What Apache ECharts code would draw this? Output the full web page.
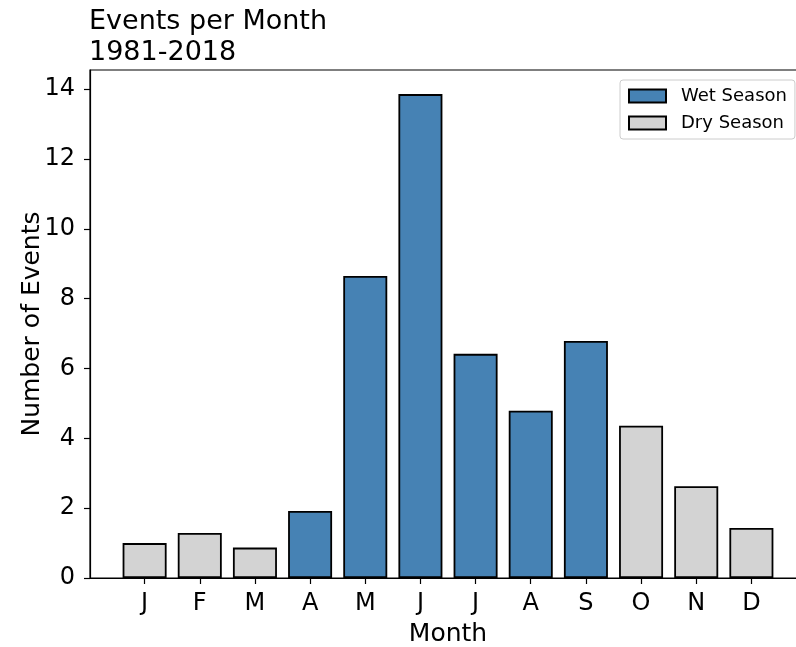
<!DOCTYPE html>
<html>
<head>
<meta charset="utf-8">
<script src="https://cdn.jsdelivr.net/npm/echarts@6/dist/echarts.min.js"></script>
<style>html,body{margin:0;padding:0;background:#fff;}#c{width:796px;height:647px;}</style>
</head>
<body>
<div id="c"></div>
<script>
const months = ['J','F','M','A','M','J','J','A','S','O','N','D'];
const values = [1.00, 1.29, 0.87, 1.92, 8.65, 13.86, 6.42, 4.79, 6.79, 4.36, 2.63, 1.43];
const season = ['Dry','Dry','Dry','Wet','Wet','Wet','Wet','Wet','Wet','Dry','Dry','Dry'];
const yTicks = [0, 2, 4, 6, 8, 10, 12, 14];
const yMax = 14.55;

const font = 'DejaVu Sans';
const idx = months.map((m, i) => i);
const wetData = idx.filter(i => season[i] === 'Wet').map(i => [i, values[i]]);
const dryData = idx.filter(i => season[i] === 'Dry').map(i => [i, values[i]]);

const chart = echarts.init(document.getElementById('c'), null, {renderer: 'canvas'});
chart.setOption({
  animation: false,
  backgroundColor: '#fff',
  title: {
    text: 'Events per Month\n1981-2018',
    left: 89, top: 6, padding: 0,
    textStyle: {fontFamily: font, fontSize: 27, fontWeight: 'normal', color: '#000', lineHeight: 31}
  },
  legend: {
    orient: 'vertical',
    left: 620, top: 80,
    itemWidth: 37, itemHeight: 13, itemGap: 9,
    padding: [7, 8, 7, 8],
    borderColor: '#cccccc', borderWidth: 1, borderRadius: 3,
    backgroundColor: 'rgba(255,255,255,0.8)',
    icon: 'rect',
    textStyle: {fontFamily: font, fontSize: 18, color: '#000', padding: [0, 0, 0, 10]},
    data: ['Wet Season', 'Dry Season']
  },
  grid: {left: 90, top: 70, width: 716, height: 508, containLabel: false, outerBoundsMode: 'none',
         show: true, borderColor: '#000', borderWidth: 1.2, backgroundColor: 'transparent'},
  xAxis: {
    type: 'value', min: -0.99, max: 11.99,
    name: 'Month', nameLocation: 'middle', nameGap: 44, nameMoveOverlap: false,
    nameTextStyle: {fontFamily: font, fontSize: 25, color: '#000'},
    axisLine: {show: true, onZero: false, lineStyle: {color: '#000', width: 1.2}},
    axisTick: {show: true, length: 6, lineStyle: {color: '#000', width: 1.2}, customValues: idx},
    axisLabel: {fontFamily: font, fontSize: 24, color: '#000', margin: 14, customValues: idx, formatter: v => months[Math.round(v)]},
    splitLine: {show: false}
  },
  yAxis: {
    type: 'value', min: 0, max: yMax,
    name: 'Number of Events', nameLocation: 'middle', nameGap: 45, nameMoveOverlap: false,
    nameTextStyle: {fontFamily: font, fontSize: 25, color: '#000'},
    axisLine: {show: true, onZero: false, lineStyle: {color: '#000', width: 1.2}},
    axisTick: {show: true, length: 6, lineStyle: {color: '#000', width: 1.2}, customValues: yTicks},
    axisLabel: {fontFamily: font, fontSize: 24, color: '#000', margin: 15, customValues: yTicks},
    splitLine: {show: false}
  },
  series: [
    {
      name: 'Wet Season', type: 'bar', data: wetData, barWidth: 44, barGap: '-100%',
      itemStyle: {color: '#4682B4', borderColor: '#000', borderWidth: 1.8}
    },
    {
      name: 'Dry Season', type: 'bar', data: dryData, barWidth: 44, barGap: '-100%',
      itemStyle: {color: '#D3D3D3', borderColor: '#000', borderWidth: 1.8}
    }
  ]
});
</script>
</body>
</html>
